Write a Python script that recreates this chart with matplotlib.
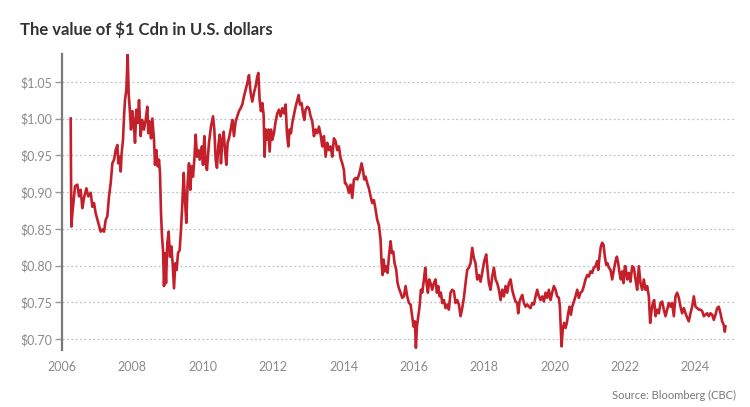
import matplotlib.pyplot as plt

# CAD in USD (decimal year, value)
years = [
    2006.246, 2006.265, 2006.294, 2006.370, 2006.436, 2006.483, 2006.531, 2006.578, 2006.625, 2006.692,
    2006.748, 2006.815, 2006.862, 2006.909, 2006.957, 2007.032, 2007.099, 2007.146, 2007.193, 2007.241,
    2007.288, 2007.335, 2007.383, 2007.430, 2007.478, 2007.525, 2007.572, 2007.601, 2007.638, 2007.667,
    2007.695, 2007.733, 2007.762, 2007.790, 2007.828, 2007.866, 2007.894, 2007.923, 2007.960, 2007.998,
    2008.036, 2008.074, 2008.112, 2008.150, 2008.188, 2008.235, 2008.282, 2008.330, 2008.377, 2008.424,
    2008.453, 2008.491, 2008.529, 2008.567, 2008.614, 2008.642, 2008.680, 2008.718, 2008.756, 2008.784,
    2008.813, 2008.841, 2008.870, 2008.898, 2008.926, 2008.955, 2008.993, 2009.030, 2009.068, 2009.106,
    2009.144, 2009.182, 2009.220, 2009.258, 2009.296, 2009.343, 2009.381, 2009.419, 2009.457, 2009.494,
    2009.532, 2009.570, 2009.608, 2009.646, 2009.684, 2009.722, 2009.760, 2009.798, 2009.835, 2009.873,
    2009.911, 2009.968, 2010.006, 2010.044,
    2010.081, 2010.119, 2010.176, 2010.233, 2010.290, 2010.328, 2010.366, 2010.403, 2010.441, 2010.479,
    2010.517, 2010.555, 2010.593, 2010.631, 2010.669, 2010.706, 2010.744, 2010.801, 2010.839, 2010.886,
    2010.934, 2010.981, 2011.028, 2011.076, 2011.123, 2011.170, 2011.218, 2011.265, 2011.313, 2011.360,
    2011.407, 2011.455, 2011.502, 2011.549, 2011.578, 2011.616, 2011.653, 2011.691, 2011.729, 2011.758,
    2011.786, 2011.824, 2011.862, 2011.900, 2011.938, 2011.975, 2012.023, 2012.070, 2012.118, 2012.165,
    2012.212, 2012.260, 2012.307, 2012.354, 2012.392, 2012.430, 2012.468, 2012.506, 2012.544, 2012.591,
    2012.638, 2012.686, 2012.724, 2012.761, 2012.809, 2012.847, 2012.885, 2012.922, 2012.970, 2013.017,
    2013.064, 2013.112, 2013.159, 2013.207, 2013.254, 2013.301, 2013.349, 2013.396, 2013.443, 2013.491,
    2013.538, 2013.585, 2013.633, 2013.680, 2013.727, 2013.775, 2013.822, 2013.869, 2013.917, 2013.964,
    2014.011, 2014.040,
    2014.058, 2014.106, 2014.153, 2014.200, 2014.248, 2014.295, 2014.343, 2014.390, 2014.437, 2014.475,
    2014.513, 2014.551, 2014.589, 2014.627, 2014.674, 2014.721, 2014.769, 2014.816, 2014.863, 2014.911,
    2014.958, 2015.005, 2015.053, 2015.081, 2015.110, 2015.138, 2015.176, 2015.214, 2015.252, 2015.290,
    2015.337, 2015.375, 2015.413, 2015.451, 2015.498, 2015.536, 2015.574, 2015.621, 2015.668, 2015.716,
    2015.763, 2015.810, 2015.858, 2015.905, 2015.952, 2015.990, 2016.028, 2016.057, 2016.085, 2016.123,
    2016.161, 2016.199, 2016.237, 2016.284, 2016.322, 2016.360, 2016.398, 2016.435, 2016.473, 2016.521,
    2016.568, 2016.615, 2016.653, 2016.691, 2016.729, 2016.767, 2016.805, 2016.852, 2016.899, 2016.947,
    2016.994, 2017.041, 2017.089, 2017.136, 2017.184, 2017.231, 2017.278, 2017.326, 2017.373, 2017.420,
    2017.468, 2017.515, 2017.562, 2017.610, 2017.657, 2017.704, 2017.752, 2017.799, 2017.846, 2017.894,
    2017.941, 2017.998,
    2018.055, 2018.093, 2018.131, 2018.178, 2018.226, 2018.273, 2018.321, 2018.368, 2018.415, 2018.463,
    2018.510, 2018.557, 2018.605, 2018.652, 2018.699, 2018.747, 2018.794, 2018.841, 2018.889, 2018.936,
    2018.964, 2019.002, 2019.040, 2019.078, 2019.125, 2019.173, 2019.220, 2019.267, 2019.315, 2019.362,
    2019.410, 2019.457, 2019.504, 2019.552, 2019.599, 2019.646, 2019.694, 2019.741, 2019.788, 2019.836,
    2019.883, 2019.930, 2019.978, 2020.025, 2020.072, 2020.120, 2020.148, 2020.177, 2020.196, 2020.233,
    2020.271, 2020.309, 2020.347, 2020.385, 2020.423, 2020.461, 2020.499, 2020.546, 2020.593, 2020.641,
    2020.688, 2020.735, 2020.783, 2020.830, 2020.877, 2020.925, 2020.972, 2021.019, 2021.067, 2021.114,
    2021.162, 2021.209, 2021.237, 2021.275, 2021.313, 2021.351, 2021.389, 2021.427, 2021.465, 2021.502,
    2021.540, 2021.588, 2021.635, 2021.682, 2021.730, 2021.768, 2021.806, 2021.843, 2021.881, 2021.919,
    2021.957, 2021.995,
    2022.013, 2022.061, 2022.108, 2022.155, 2022.203, 2022.250, 2022.298, 2022.345, 2022.392, 2022.440,
    2022.487, 2022.534, 2022.582, 2022.629, 2022.676, 2022.714, 2022.752, 2022.790, 2022.828, 2022.866,
    2022.913, 2022.960, 2023.008, 2023.055, 2023.102, 2023.150, 2023.197, 2023.245, 2023.292, 2023.339,
    2023.387, 2023.434, 2023.481, 2023.529, 2023.576, 2023.623, 2023.671, 2023.718, 2023.765, 2023.813,
    2023.860, 2023.907, 2023.955, 2024.002, 2024.049, 2024.097, 2024.144, 2024.192, 2024.239, 2024.286,
    2024.334, 2024.381, 2024.428, 2024.476, 2024.523, 2024.570, 2024.618, 2024.665, 2024.712, 2024.760,
    2024.807, 2024.835, 2024.854,
]

usd = [
    1.000, 0.853, 0.871, 0.908, 0.910, 0.894, 0.903, 0.878, 0.892, 0.905,
    0.894, 0.899, 0.880, 0.885, 0.871, 0.858, 0.846, 0.849, 0.846, 0.862,
    0.867, 0.894, 0.912, 0.939, 0.944, 0.957, 0.964, 0.939, 0.948, 0.928,
    0.953, 0.971, 1.003, 1.025, 1.039, 1.087, 1.034, 1.014, 0.985, 1.010,
    0.996, 0.967, 1.012, 0.994, 1.025, 0.976, 0.998, 0.985, 0.998, 1.016,
    0.980, 0.996, 0.973, 1.000, 0.971, 0.937, 0.957, 0.935, 0.944, 0.926,
    0.871, 0.840, 0.821, 0.772, 0.817, 0.776, 0.831, 0.846, 0.812, 0.826,
    0.803, 0.769, 0.803, 0.794, 0.817, 0.821, 0.849, 0.885, 0.926, 0.889,
    0.858, 0.912, 0.939, 0.903, 0.935, 0.921, 0.944, 0.978, 0.948, 0.957,
    0.944, 0.962, 0.937, 0.976,
    0.939, 0.930, 0.967, 0.989, 1.003, 0.985, 0.944, 0.933, 0.962, 0.978,
    0.939, 0.971, 0.982, 0.957, 0.937, 0.967, 0.973, 0.987, 0.998, 0.976,
    0.996, 1.003, 1.010, 1.014, 1.019, 1.030, 1.039, 1.048, 1.059, 1.035,
    1.023, 1.035, 1.044, 1.057, 1.062, 1.025, 1.010, 1.021, 1.005, 0.948,
    0.985, 0.971, 0.985, 0.955, 0.985, 0.971, 0.980, 0.996, 1.007, 1.012,
    1.003, 1.014, 1.007, 1.019, 0.980, 0.962, 0.985, 0.980, 0.994, 1.005,
    1.016, 1.025, 1.032, 1.019, 1.021, 1.007, 0.998, 1.012, 1.016, 1.014,
    1.003, 0.996, 0.976, 0.985, 0.980, 0.989, 0.978, 0.962, 0.976, 0.948,
    0.967, 0.957, 0.962, 0.948, 0.973, 0.969, 0.957, 0.962, 0.946, 0.939,
    0.930, 0.912,
    0.912, 0.908, 0.899, 0.910, 0.892, 0.917, 0.919, 0.917, 0.923, 0.930,
    0.939, 0.930, 0.917, 0.921, 0.912, 0.905, 0.894, 0.885, 0.889, 0.876,
    0.862, 0.855, 0.835, 0.803, 0.787, 0.808, 0.792, 0.799, 0.790, 0.812,
    0.833, 0.817, 0.819, 0.803, 0.794, 0.776, 0.769, 0.763, 0.756, 0.758,
    0.772, 0.758, 0.749, 0.747, 0.731, 0.717, 0.724, 0.688, 0.717, 0.731,
    0.744, 0.767, 0.763, 0.781, 0.797, 0.776, 0.763, 0.781, 0.776, 0.767,
    0.776, 0.781, 0.763, 0.772, 0.758, 0.763, 0.749, 0.753, 0.742, 0.747,
    0.740, 0.763, 0.767, 0.765, 0.749, 0.753, 0.747, 0.731, 0.742, 0.756,
    0.776, 0.794, 0.797, 0.803, 0.824, 0.810, 0.803, 0.781, 0.787, 0.778,
    0.790, 0.806,
    0.815, 0.794, 0.776, 0.767, 0.785, 0.797, 0.781, 0.776, 0.767, 0.753,
    0.767, 0.758, 0.772, 0.763, 0.776, 0.781, 0.767, 0.758, 0.751, 0.749,
    0.735, 0.751, 0.756, 0.760, 0.749, 0.744, 0.747, 0.744, 0.742, 0.749,
    0.747, 0.758, 0.767, 0.758, 0.753, 0.758, 0.751, 0.763, 0.756, 0.767,
    0.753, 0.763, 0.772, 0.767, 0.758, 0.756, 0.744, 0.713, 0.690, 0.715,
    0.722, 0.715, 0.722, 0.735, 0.744, 0.733, 0.744, 0.751, 0.758, 0.767,
    0.756, 0.763, 0.765, 0.772, 0.781, 0.787, 0.785, 0.792, 0.790, 0.797,
    0.799, 0.806, 0.794, 0.812, 0.826, 0.831, 0.828, 0.812, 0.801, 0.803,
    0.797, 0.794, 0.781, 0.794, 0.806, 0.812, 0.803, 0.790, 0.781, 0.792,
    0.776, 0.799,
    0.799, 0.781, 0.790, 0.778, 0.799, 0.797, 0.781, 0.767, 0.799, 0.776,
    0.767, 0.781, 0.767, 0.772, 0.758, 0.722, 0.738, 0.749, 0.753, 0.731,
    0.740, 0.735, 0.749, 0.751, 0.740, 0.731, 0.740, 0.749, 0.744, 0.749,
    0.731, 0.758, 0.763, 0.756, 0.744, 0.735, 0.742, 0.735, 0.729, 0.724,
    0.735, 0.744, 0.758, 0.744, 0.742, 0.740, 0.740, 0.738, 0.731, 0.733,
    0.735, 0.731, 0.735, 0.733, 0.726, 0.733, 0.742, 0.744, 0.735, 0.724,
    0.719, 0.710, 0.717,
]

yticks = [0.70, 0.75, 0.80, 0.85, 0.90, 0.95, 1.00, 1.05]
xticks = [2006, 2008, 2010, 2012, 2014, 2016, 2018, 2020, 2022, 2024]

plt.rcParams['font.family'] = ['Lato', 'DejaVu Sans']

fig = plt.figure(figsize=(7.5, 4.07), dpi=100)
ax = fig.add_axes([0.0827, 0.140, 0.898, 0.727])

ax.plot(years, usd, color='#c4202b', linewidth=1.9, solid_joinstyle='round')

ax.set_xlim(2006.0, 2025.14)
ax.set_ylim(0.685, 1.0876)

ax.set_yticks(yticks)
ax.set_yticklabels(['\\$%.2f' % v for v in yticks])
ax.set_xticks(xticks)
ax.set_xticklabels([str(x) for x in xticks])

ax.tick_params(axis='y', length=5, width=1, color='#999999', labelcolor='#8a8a8a',
               labelsize=9, pad=2)
ax.tick_params(axis='x', length=0, labelcolor='#8a8a8a', labelsize=9, pad=8)

for s in ['top', 'right', 'bottom']:
    ax.spines[s].set_visible(False)
ax.spines['left'].set_color('#7a7a7a')
ax.spines['left'].set_linewidth(1.6)

ax.grid(axis='y', color='#b9c3ca', linestyle=(0, (1.5, 2)), linewidth=0.9)
ax.set_axisbelow(True)

fig.text(20 / 750, 1 - 30 / 407, 'The value of \\$1 Cdn in U.S. dollars', fontsize=12,
         fontweight='bold', color='#333333', ha='left', va='center')
fig.text(736 / 750, 1 - 395 / 407, 'Source: Bloomberg (CBC)', fontsize=8,
         color='#777777', ha='right', va='center')

fig.savefig('out.png', dpi=100)
